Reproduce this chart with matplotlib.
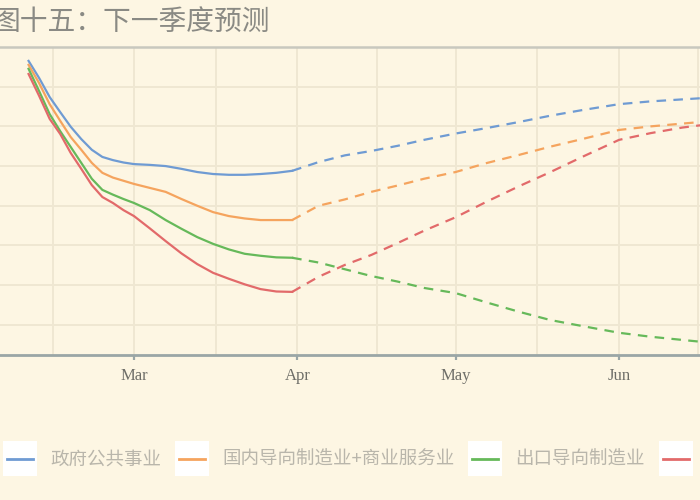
import pandas as pd
import matplotlib
matplotlib.use("Agg")
import matplotlib.pyplot as plt
import matplotlib.dates as mdates
from matplotlib.legend_handler import HandlerBase
from matplotlib.lines import Line2D
from matplotlib.patches import Rectangle

# observed period (solid lines)
obs_dates = pd.to_datetime([
    "2020-02-10", "2020-02-12", "2020-02-14", "2020-02-16", "2020-02-18",
    "2020-02-20", "2020-02-22", "2020-02-24", "2020-02-26", "2020-02-28",
    "2020-03-01", "2020-03-04", "2020-03-07", "2020-03-10", "2020-03-13",
    "2020-03-16", "2020-03-19", "2020-03-22", "2020-03-25", "2020-03-28",
    "2020-03-31",
])
# forecast for next quarter (dashed lines)
fc_dates = pd.to_datetime([
    "2020-03-31", "2020-04-05", "2020-04-10", "2020-04-15", "2020-04-20",
    "2020-04-25", "2020-05-01", "2020-05-07", "2020-05-13", "2020-05-19",
    "2020-05-25", "2020-06-01", "2020-06-07", "2020-06-13", "2020-06-19",
    "2020-06-25", "2020-06-30",
])

names = ["政府公共事业", "国内导向制造业+商业服务业", "出口导向制造业", ""]
colors = ["#6f9bd3", "#f5a45e", "#66b95a", "#e26a6a"]

gov_obs = [76.5, 72.2, 67.4, 63.6, 59.9, 56.8, 54.1, 52.3, 51.5, 50.9, 50.5,
           50.3, 50.0, 49.3, 48.5, 48.0, 47.8, 47.8, 48.0, 48.3, 48.8]
dom_obs = [75.5, 70.9, 65.6, 61.4, 57.3, 54.1, 50.8, 48.3, 47.1, 46.3, 45.5,
           44.5, 43.5, 41.7, 40.0, 38.4, 37.4, 36.8, 36.4, 36.4, 36.4]
exp_obs = [74.5, 68.9, 63.1, 58.8, 54.8, 50.8, 46.8, 44.0, 42.8, 41.7, 40.7,
           38.9, 36.4, 34.2, 32.1, 30.4, 29.0, 27.9, 27.4, 27.0, 26.9]
oth_obs = [73.2, 67.7, 61.9, 58.1, 53.3, 49.3, 45.2, 42.2, 40.7, 38.9, 37.4,
           34.3, 31.1, 28.0, 25.3, 23.1, 21.6, 20.2, 19.0, 18.4, 18.3]

gov_fc = [48.8, 51.0, 52.7, 53.8, 55.1, 56.6, 58.2, 59.6, 61.1, 62.7, 64.1,
          65.6, 66.3, 66.8, 67.3, 67.5, 67.7]
dom_fc = [36.4, 40.0, 41.6, 43.5, 45.1, 46.8, 48.5, 50.8, 52.8, 54.9, 56.8,
          59.1, 60.0, 60.7, 61.4, 61.7, 62.0]
exp_fc = [26.9, 25.7, 24.0, 22.3, 20.9, 19.3, 18.0, 15.6, 13.3, 11.2, 9.7,
          8.0, 7.0, 6.2, 5.4, 5.1, 4.8]
oth_fc = [18.3, 22.1, 25.1, 27.6, 30.6, 33.7, 37.1, 41.1, 44.9, 48.5, 52.3,
          56.6, 58.3, 59.7, 60.7, 61.2, 61.5]

obs_series = [gov_obs, dom_obs, exp_obs, oth_obs]
fc_series = [gov_fc, dom_fc, exp_fc, oth_fc]

bg = "#fdf6e3"
grid_c = "#efe7d2"
cjk = ["Noto Sans CJK SC", "DejaVu Sans"]


class BoxLineHandler(HandlerBase):
    # line on a white square, like the legend of the original
    def create_artists(self, legend, orig_handle, xdescent, ydescent,
                       width, height, fontsize, trans):
        side = width
        cy = height / 2 - ydescent
        box = Rectangle((-xdescent, cy - side / 2), side, side,
                        facecolor="white", edgecolor="none", transform=trans)
        ln = Line2D([-xdescent + 3, -xdescent + width - 3], [cy, cy],
                    color=orig_handle.get_color(), lw=2, transform=trans)
        return [box, ln]


fig = plt.figure(figsize=(7, 5), dpi=100, facecolor=bg)

# plot area runs past both edges of the picture
px_day = 5.272
mar1 = pd.Timestamp("2020-03-01")
left_px, right_px = -60, 780
ax = fig.add_axes([left_px / 700, 145 / 500, (right_px - left_px) / 700, 308 / 500])
ax.set_facecolor(bg)
ax.set_xlim(mar1 + pd.Timedelta(days=(left_px - 134) / px_day),
            mar1 + pd.Timedelta(days=(right_px - 134) / px_day))
ax.set_ylim(2.4, 80)

handles = []
for obs, fc, c, n in zip(obs_series, fc_series, colors, names):
    h, = ax.plot(obs_dates, obs, color=c, lw=1.6, label=n, zorder=3,
                 solid_joinstyle="round")
    ax.plot(fc_dates, fc, color=c, lw=1.6, dashes=(4.3, 3.3), zorder=3)
    handles.append(h)

month_ticks = pd.to_datetime(["2020-03-01", "2020-04-01", "2020-05-01", "2020-06-01"])
ax.set_xticks(month_ticks)
ax.xaxis.set_major_formatter(mdates.DateFormatter("%b"))
minor_days = pd.to_datetime(["2020-02-01 00:00", "2020-02-14 14:00", "2020-03-16 12:00",
                             "2020-04-16 00:00", "2020-05-16 12:00", "2020-06-16 00:00",
                             "2020-07-01 00:00"])
ax.set_xticks(minor_days, minor=True)
ax.set_yticks(range(10, 81, 10))
ax.set_yticklabels([])

ax.grid(True, which="both", color=grid_c, lw=1.4, zorder=0)
ax.tick_params(axis="x", which="major", length=3.5, width=1.6, color="#9aa6a6",
               pad=6, labelsize=12, labelcolor="#6e6e68")
ax.tick_params(axis="x", which="minor", length=0)
ax.tick_params(axis="y", length=0)
for lab in ax.get_xticklabels():
    lab.set_fontfamily("Liberation Serif")

for side in ["left", "right"]:
    ax.spines[side].set_visible(False)
ax.spines["bottom"].set_color("#9aa6a6")
ax.spines["bottom"].set_linewidth(2)
ax.spines["top"].set_color("#c8c8be")
ax.spines["top"].set_linewidth(1.8)

fig.text(-7 / 700, 1 - 22 / 500, "图十五：下一季度预测", ha="left", va="center",
         fontsize=20, fontweight="light", color="#8a8a84", family=cjk)

leg = fig.legend(handles, names, loc="center left", bbox_to_anchor=(3 / 700, 40 / 500),
                 ncol=4, frameon=False, borderpad=0, borderaxespad=0,
                 handlelength=1.85, handletextpad=0.7, columnspacing=0.75,
                 prop={"family": cjk, "size": 13.3},
                 handler_map={Line2D: BoxLineHandler()})
for t in leg.get_texts():
    t.set_color("#b9b6ab")

fig.savefig("out.png", dpi=100, facecolor=bg)
